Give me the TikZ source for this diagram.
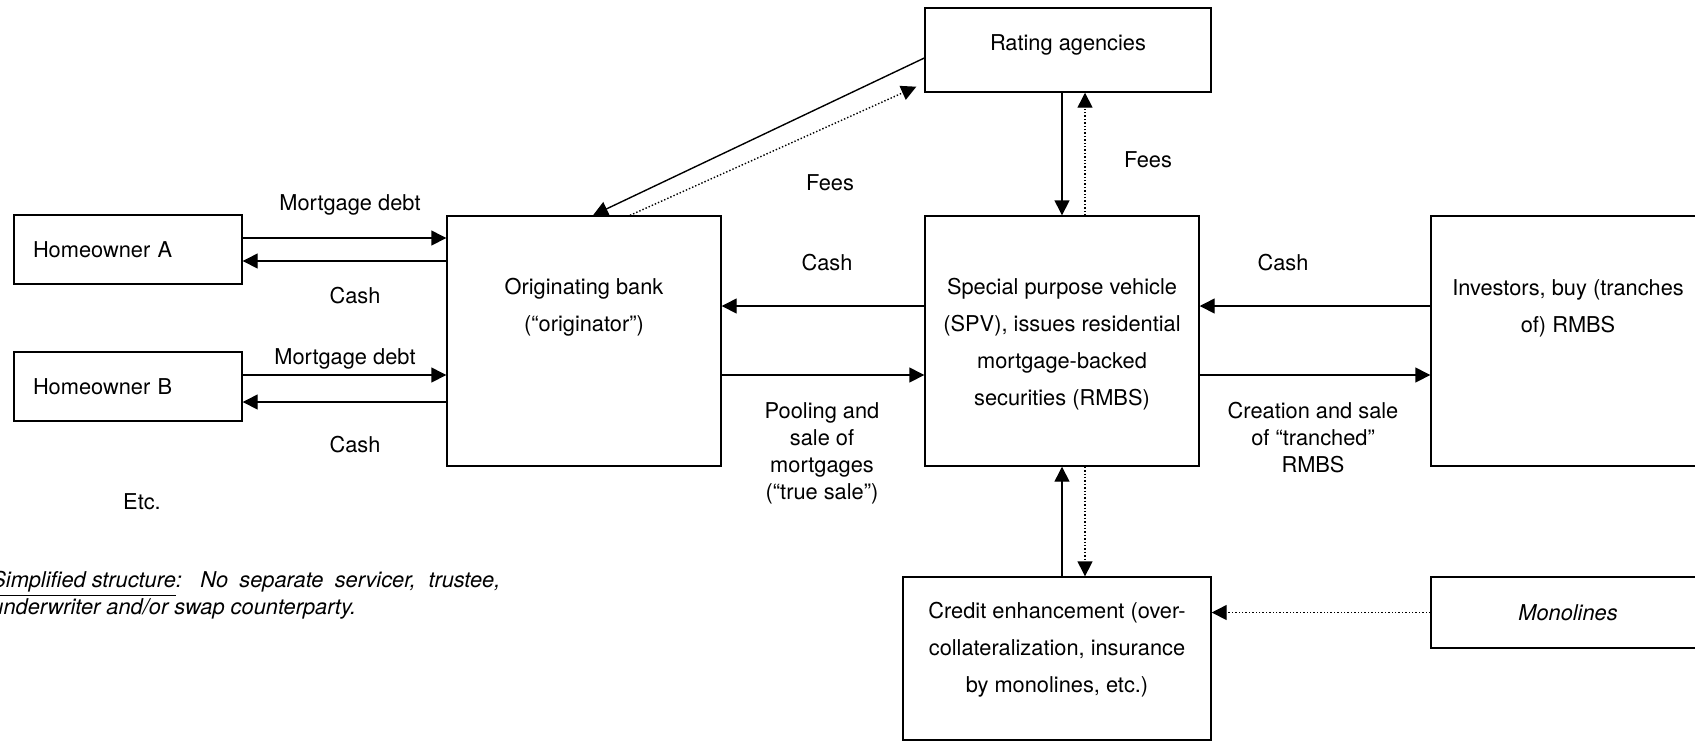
\documentclass[tikz,border=0pt]{standalone}
\usepackage{fontspec}
\setmainfont{TeX Gyre Heros}
\usetikzlibrary{arrows.meta}

\begin{document}
\begin{tikzpicture}[x=0.5pt,y=-0.5pt,
        every node/.style={font=\fontsize{10.9}{13.5}\selectfont},
        box/.style={draw,line width=0.7pt,minimum width=137pt,minimum height=125pt},
        boxtext/.style={align=center,font=\fontsize{10.9}{18.5}\selectfont},
        owner/.style={draw,line width=0.7pt,minimum height=34.5pt,text width=95pt,inner xsep=9.5pt,align=left},
        arr/.style={line width=0.7pt,-{Triangle[length=7.5pt,width=7.5pt]}},
        dotarr/.style={arr,densely dotted}]
    \clip (0,0) rectangle (1695,741);

    % boxes
    \node[owner] (hoA) at (128,249.5) {Homeowner A};
    \node[owner] (hoB) at (128,386.5) {Homeowner B};
    \node[box] (bank) at (584,341) {};
    \node[boxtext] (banktext) at ([yshift=17pt]bank.center) {Originating bank\\(“originator”)};
    \node[box] (spv) at (1062,341) {};
    \node[boxtext] (spvtext) at ([yshift=-1.5pt]spv.center) {Special purpose vehicle\\(SPV), issues residential\\mortgage-backed\\securities (RMBS)};
    \node[box] (inv) at (1568,341) {};
    \node[boxtext] (invtext) at ([yshift=16.5pt]inv.center) {Investors, buy (tranches\\of) RMBS};
    \node[box,minimum width=143pt,minimum height=42pt] (rating) at (1068,50) {};
    \node[boxtext] (ratingtext) at ([yshift=2.5pt]rating.center) {Rating agencies};
    \node[box,minimum width=154pt,minimum height=81.5pt] (credit) at (1057,658.5) {};
    \node[boxtext] (credittext) at ([yshift=4.25pt]credit.center) {Credit enhancement (over-\\collateralization, insurance\\by monolines, etc.)};
    \node[box,minimum height=35.5pt] (mono) at (1568,612.5) {\itshape Monolines};

    % flows
    \draw[arr] ([yshift=5.75pt]hoA.east) -- ([yshift=5.75pt]hoA.east -| bank.west);
    \draw[arr] ([yshift=-5.75pt]hoA.east -| bank.west) -- ([yshift=-5.75pt]hoA.east);
    \draw[arr] ([yshift=5.75pt]hoB.east) -- ([yshift=5.75pt]hoB.east -| bank.west);
    \draw[arr] ([yshift=-7.75pt]hoB.east -| bank.west) -- ([yshift=-7.75pt]hoB.east);
    \draw[arr] ([yshift=17.5pt]spv.west) -- ([yshift=17.5pt]spv.west -| bank.east);
    \draw[arr] ([yshift=-17pt]bank.east) -- ([yshift=-17pt]bank.east -| spv.west);
    \draw[arr] ([yshift=17.5pt]inv.west) -- ([yshift=17.5pt]inv.west -| spv.east);
    \draw[arr] ([yshift=-17pt]spv.east) -- ([yshift=-17pt]spv.east -| inv.west);
    \draw[arr] ([yshift=-4pt]rating.west) -- ([xshift=4.5pt]bank.north);
    \draw[dotarr] ([xshift=23pt]bank.north) -- ([xshift=-4pt,yshift=3pt]rating.south west);
    \draw[arr] (rating.south -| spv.north) -- (spv.north);
    \draw[dotarr] ([xshift=11.5pt]spv.north) -- ([xshift=11.5pt]rating.south -| spv.north);
    \draw[arr] (credit.north -| spv.south) -- (spv.south);
    \draw[dotarr] ([xshift=11.5pt]spv.south) -- ([xshift=11.5pt]spv.south |- credit.north);
    \draw[dotarr] (mono.west) -- (mono.west -| credit.east);

    % labels
    \node (debtA) at (350,205) {Mortgage debt};
    \node (cashA) at (355,296) {Cash};
    \node (debtB) at (345,359) {Mortgage debt};
    \node (cashB) at (355,445) {Cash};
    \node (feesL) at (830,183) {Fees};
    \node (feesR) at (1148,160) {Fees};
    \node (cashL) at (827,263) {Cash};
    \node[align=center] (pool) at (822,453) {Pooling and\\sale of\\mortgages\\(“true sale”)};
    \node (cashR) at (1283,263) {Cash};
    \node[align=center] (tranche) at (1313,438) {Creation and sale\\of “tranched”\\RMBS};
    \node (etc) at (142,502) {Etc.};
    \node[anchor=north west,inner sep=0pt,text width=254.5pt,align=justify] (note) at (-9,571)
        {\itshape\underline{Simplified structure}: No separate servicer, trustee,\linebreak underwriter and/or swap counterparty.};
\end{tikzpicture}
\end{document}
